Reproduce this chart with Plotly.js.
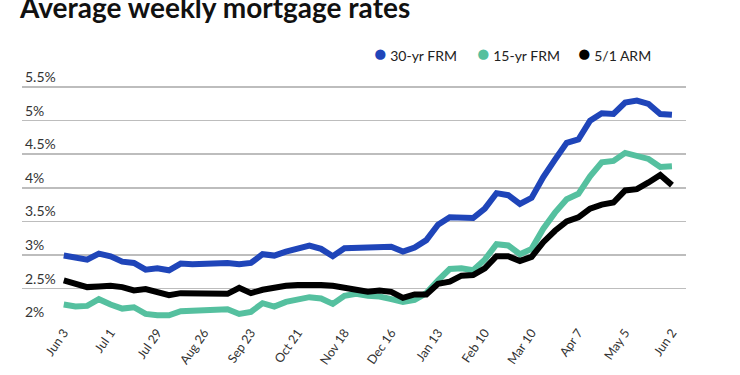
<!DOCTYPE html>
<html>
<head>
<meta charset="utf-8">
<script src="https://cdn.plot.ly/plotly-3.0.1.min.js"></script>
<style>html,body{margin:0;padding:0;background:#fff;}#chart{width:740px;height:375px;}</style>
</head>
<body>
<div id="chart"></div>
<script>
const weeks = [
  "2021-06-03","2021-06-10","2021-06-17","2021-06-24","2021-07-01","2021-07-08","2021-07-15","2021-07-22","2021-07-29",
  "2021-08-05","2021-08-12","2021-08-19","2021-08-26","2021-09-02","2021-09-09","2021-09-16","2021-09-23","2021-09-30",
  "2021-10-07","2021-10-14","2021-10-21","2021-10-28","2021-11-04","2021-11-11","2021-11-18","2021-11-25",
  "2021-12-02","2021-12-09","2021-12-16","2021-12-23","2021-12-30",
  "2022-01-06","2022-01-13","2022-01-20","2022-01-27","2022-02-03","2022-02-10","2022-02-17","2022-02-24",
  "2022-03-03","2022-03-10","2022-03-17","2022-03-24","2022-03-31","2022-04-07","2022-04-14","2022-04-21","2022-04-28",
  "2022-05-05","2022-05-12","2022-05-19","2022-05-26","2022-06-02"
];
const rate30 = [
  2.99,2.96,2.93,3.02,2.98,2.90,2.88,2.78,2.80,
  2.77,2.87,2.86,2.87,2.87,2.88,2.86,2.88,3.01,
  2.99,3.05,3.09,3.14,3.09,2.98,3.10,3.10,
  3.11,3.10,3.12,3.05,3.11,
  3.22,3.45,3.56,3.55,3.55,3.69,3.92,3.89,
  3.76,3.85,4.16,4.42,4.67,4.72,5.00,5.11,5.10,
  5.27,5.30,5.25,5.10,5.09
];
const rate15 = [
  2.26,2.23,2.24,2.34,2.26,2.20,2.22,2.12,2.10,
  2.10,2.16,2.17,2.18,2.19,2.19,2.12,2.15,2.28,
  2.23,2.30,2.33,2.37,2.35,2.27,2.39,2.42,
  2.39,2.38,2.34,2.30,2.33,
  2.43,2.62,2.79,2.80,2.77,2.93,3.16,3.14,
  3.01,3.09,3.39,3.63,3.83,3.91,4.17,4.38,4.40,
  4.52,4.48,4.43,4.31,4.32
];
const arm51 = [
  2.62,2.56,2.52,2.53,2.54,2.52,2.47,2.49,2.45,
  2.40,2.43,2.43,2.42,2.43,2.42,2.51,2.43,2.48,
  2.52,2.54,2.55,2.56,2.55,2.54,2.52,2.48,
  2.45,2.47,2.45,2.36,2.41,
  2.41,2.57,2.60,2.69,2.70,2.80,2.98,2.98,
  2.91,2.97,3.19,3.36,3.50,3.56,3.69,3.75,3.78,
  3.96,3.98,4.08,4.19,4.04
];
const tickDates = ["2021-06-03","2021-07-01","2021-07-29","2021-08-26","2021-09-23","2021-10-21","2021-11-18",
  "2021-12-16","2022-01-13","2022-02-10","2022-03-10","2022-04-07","2022-05-05","2022-06-02"];
const tickLabels = ["Jun 3","Jul 1","Jul 29","Aug 26","Sep 23","Oct 21","Nov 18","Dec 16","Jan 13","Feb 10","Mar 10","Apr 7","May 5","Jun 2"];
const yTicks = [2,2.5,3,3.5,4,4.5,5,5.5];
const yLabels = ["2%","2.5%","3%","3.5%","4%","4.5%","5%","5.5%"];
const seriesNames = ["30-yr FRM","15-yr FRM","5/1 ARM"];
const seriesColors = ["#1f45b9","#55c09f","#000000"];

const traces = [
  {x: weeks, y: rate15, name: seriesNames[1], color: seriesColors[1]},
  {x: weeks, y: rate30, name: seriesNames[0], color: seriesColors[0]},
  {x: weeks, y: arm51, name: seriesNames[2], color: seriesColors[2]}
].map(s => ({
  x: s.x, y: s.y, name: s.name, type: "scatter", mode: "lines",
  line: {color: s.color, width: 6, shape: "linear"},
  hoverinfo: "skip", showlegend: false
}));

const plotTop = 67, plotBottom = 322;
const legendX = [372, 475, 576];
const annotations = seriesNames.map((n, i) => ({
  xref: "paper", yref: "paper",
  x: (legendX[i] - 22) / 664, y: (plotBottom - 53) / (plotBottom - plotTop),
  xanchor: "left", yanchor: "middle", showarrow: false,
  text: '<span style="color:' + seriesColors[i] + ';font-size:21px">●</span> ' + n,
  font: {family: "Lato", size: 14, color: "#222"}
}));

const layout = {
  width: 740, height: 375,
  margin: {l: 22, r: 54, t: plotTop, b: 375 - plotBottom},
  paper_bgcolor: "#fff", plot_bgcolor: "#fff",
  title: {
    text: "Average weekly mortgage rates",
    font: {family: "Lato", size: 28, weight: 700, color: "#111"},
    x: 20 / 740, xanchor: "left", xref: "container",
    y: 0.978, yanchor: "middle", yref: "container"
  },
  xaxis: {
    type: "date",
    range: ["2021-05-09", "2022-06-10 10:00"],
    tickvals: tickDates, ticktext: tickLabels,
    tickangle: -55, ticks: "", showgrid: false, zeroline: false, showline: false,
    tickfont: {family: "Lato", size: 12.5, color: "#333"}
  },
  yaxis: {
    range: [2, 5.8],
    tickvals: yTicks, ticktext: yLabels,
    ticklabelposition: "inside top",
    ticklabeloverflow: "allow",
    showgrid: true, gridcolor: "#bdbdbd", gridwidth: 1.5,
    zeroline: false, showline: false, ticks: "",
    tickfont: {family: "Lato", size: 14, color: "#333"}
  },
  annotations: annotations,
  showlegend: false
};

Plotly.newPlot("chart", traces, layout, {staticPlot: true, displayModeBar: false});
</script>
</body>
</html>
